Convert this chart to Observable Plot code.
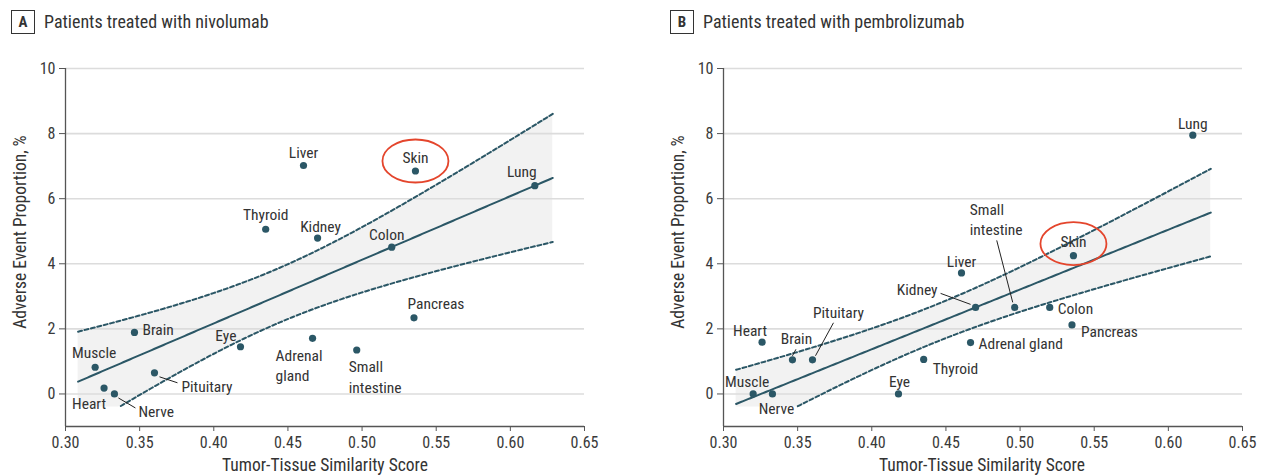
<!DOCTYPE html>
<html><head><meta charset="utf-8">
<script src="https://cdn.jsdelivr.net/npm/d3@7"></script>
<script src="https://cdn.jsdelivr.net/npm/@observablehq/plot@0.6"></script>
<style>
body{margin:0;background:#fff;}
#wrap{position:relative;width:1267px;height:476px;overflow:hidden;color:#333;font-family:"Roboto Condensed","DejaVu Sans Condensed","Open Sans",sans-serif;}
.panel{position:absolute;top:0;}
.tag{position:absolute;top:10px;width:24px;height:24px;box-sizing:border-box;border:1.3px solid #333;font-weight:bold;font-size:15px;text-align:center;line-height:22px;}
.title{position:absolute;top:12px;font-size:18px;line-height:20px;white-space:nowrap;}
.xlab{position:absolute;top:455px;width:400px;text-align:center;font-size:17.5px;line-height:20px;}
.ylab{position:absolute;width:300px;text-align:center;font-size:17.5px;line-height:20px;transform:rotate(-90deg);}
</style></head>
<body><div id="wrap"></div>
<script>
// ---- data ----
const tissues = ["Muscle","Heart","Nerve","Brain","Pituitary","Eye","Thyroid","Liver","Adrenal gland","Kidney","Small intestine","Colon","Pancreas","Skin","Lung"];
const similarity = [0.320,0.326,0.333,0.3465,0.360,0.418,0.435,0.4605,0.4666,0.470,0.4964,0.520,0.535,0.536,0.6165];
const aeNivolumab = [0.82,0.18,0.00,1.89,0.65,1.45,5.06,7.02,1.71,4.79,1.35,4.51,2.34,6.85,6.40];
const aePembrolizumab = [0.00,1.59,0.00,1.05,1.05,0.00,1.06,3.72,1.58,2.66,2.66,2.66,2.12,4.25,7.95];
const xTicks = [0.30,0.35,0.40,0.45,0.50,0.55,0.60,0.65];
const yTicks = [0,2,4,6,8,10];
const xDomain = [0.30,0.65];
const yDomain = [-1,10];
const fitRange = [0.3085,0.6286];
const tCrit = 1.7709; // 90% CI, df = 13
const yClip = -0.4;
const highlight = "Skin";

// ---- label layout: [textAnchor, dx px, dy px] ----
const layoutA = {"Muscle":["middle",-1,-16],"Heart":["end",2,14],"Nerve":["start",24,17],"Brain":["start",8,-4],
 "Pituitary":["start",27,13],"Eye":["end",-4,-12],"Thyroid":["middle",0,-16],"Liver":["middle",0,-14],
 "Adrenal gland":["start",-37,26],"Kidney":["middle",3,-13],"Small intestine":["start",-8,26],"Colon":["middle",-5,-14],
 "Pancreas":["middle",22,-15],"Skin":["middle",0,-14],"Lung":["middle",-13,-15]};
const breaksA = {"Adrenal gland":"Adrenal\ngland","Small intestine":"Small\nintestine"};
const leadersA = {"Nerve":[4,4,21,14],"Pituitary":[5,4,23,10]};
const layoutB = {"Muscle":["middle",-6,-13],"Heart":["middle",-12,-13],"Nerve":["middle",4,14],"Brain":["middle",4,-22],
 "Pituitary":["middle",26,-48],"Eye":["middle",1,-13],"Thyroid":["start",9,8],"Liver":["middle",0,-12],
 "Adrenal gland":["start",8,0],"Kidney":["end",-38,-19],"Small intestine":["start",-45,-89],"Colon":["start",8,0],
 "Pancreas":["start",9,6],"Skin":["middle",0,-15],"Lung":["middle",0,-13]};
const breaksB = {"Small intestine":"Small\nintestine"};
const leadersB = {"Brain":[0,-4,3.5,-10.5],"Pituitary":[3,-4,21,-37],"Kidney":[-35,-14,-5,-3],"Small intestine":[-18,-67,-2,-5]};

const teal = "#2b5766", red = "#e4452c";
const FONT = getComputedStyle(document.getElementById("wrap")).fontFamily;

const ellipse = {draw(ctx){const rx=33,ry=21.5,k=0.5523;
  ctx.moveTo(rx,0);ctx.bezierCurveTo(rx,ry*k,rx*k,ry,0,ry);ctx.bezierCurveTo(-rx*k,ry,-rx,ry*k,-rx,0);
  ctx.bezierCurveTo(-rx,-ry*k,-rx*k,-ry,0,-ry);ctx.bezierCurveTo(rx*k,-ry,rx,-ry*k,rx,0);ctx.closePath();}};

function panel(values, layout, breaks, leaders, W, mr, ellDy){
  const H=476, ml=65, mt=68, mb=50;
  const kx=(xDomain[1]-xDomain[0])/(W-ml-mr), ky=(yDomain[1]-yDomain[0])/(H-mt-mb);
  const data = tissues.map((t,i)=>({t, x:similarity[i], y:values[i]}));
  const labels = data.map(d=>{const [a,dx,dy]=layout[d.t];return {...d,a,label:breaks[d.t]??d.t,lx:d.x+dx*kx,ly:d.y-dy*ky};});
  const leaderData = Object.entries(leaders).map(([t,[x1,y1,x2,y2]])=>{const d=data.find(e=>e.t===t);
    return {x1:d.x+x1*kx,y1:d.y-y1*ky,x2:d.x+x2*kx,y2:d.y-y2*ky};});
  // ordinary least squares fit with confidence band
  const n=data.length, mx=d3.mean(data,d=>d.x), my=d3.mean(data,d=>d.y);
  const sxx=d3.sum(data,d=>(d.x-mx)**2), sxy=d3.sum(data,d=>(d.x-mx)*(d.y-my)), syy=d3.sum(data,d=>(d.y-my)**2);
  const b=sxy/sxx, a=my-b*mx, s=Math.sqrt((syy-b*sxy)/(n-2));
  const grid=d3.range(0,201).map(i=>{const x=fitRange[0]+(fitRange[1]-fitRange[0])*i/200;const f=a+b*x;
    const hw=tCrit*s*Math.sqrt(1/n+(x-mx)**2/sxx);return {x,fit:f,lo:f-hw,hi:f+hw};});
  const dash={stroke:teal,strokeWidth:2,strokeDasharray:"4,2.6"};
  return Plot.plot({width:W,height:H,marginLeft:ml,marginRight:mr,marginTop:mt,marginBottom:mb,
    x:{domain:xDomain},y:{domain:yDomain},
    style:{fontFamily:FONT,fontSize:"16px",color:"#3a3a3a",background:"transparent",overflow:"visible"},
    marks:[
      Plot.areaY(grid,{x:"x",y1:d=>Math.max(d.lo,yClip),y2:"hi",fill:"#f2f2f2"}),
      Plot.gridY(yTicks,{stroke:"#dcdcdc",strokeOpacity:1,strokeWidth:1.6}),
      Plot.ruleX([xDomain[0]],{y1:yDomain[0],y2:yDomain[1],stroke:"#555",strokeWidth:1.3}),
      Plot.ruleY([yDomain[0]],{stroke:"#555",strokeWidth:1.3}),
      Plot.axisX(xTicks,{tickFormat:d3.format(".2f"),tickSize:5,tickPadding:5,label:null,fontSize:16,stroke:"#555"}),
      Plot.axisY(yTicks,{tickSize:6,tickPadding:4,label:null,fontSize:16,stroke:"#555"}),
      Plot.line(grid,{x:"x",y:"hi",...dash}),
      Plot.line(grid.filter(d=>d.lo>=yClip),{x:"x",y:"lo",...dash}),
      Plot.line(grid,{x:"x",y:"fit",stroke:teal,strokeWidth:2}),
      Plot.link(leaderData,{x1:"x1",y1:"y1",x2:"x2",y2:"y2",stroke:"#222",strokeWidth:1}),
      Plot.dot(data,{x:"x",y:"y",r:3.6,fill:teal}),
      ...["start","middle","end"].map(an=>Plot.text(labels.filter(d=>d.a===an),{x:"lx",y:"ly",text:"label",textAnchor:an,lineAnchor:"middle",lineHeight:1.3,fontSize:15.5,fill:"#333"})),
      Plot.dot(data.filter(d=>d.t===highlight),{x:"x",y:"y",symbol:ellipse,stroke:red,strokeWidth:1.8,fill:"none",dy:ellDy})
    ]});
}

const wrap=document.getElementById("wrap");
function add(html){wrap.insertAdjacentHTML("beforeend",html);}
const svgA=panel(aeNivolumab,layoutA,breaksA,leadersA,640,56,-10);
svgA.classList.add("panel");svgA.style.left="0px";wrap.appendChild(svgA);
const svgB=panel(aePembrolizumab,layoutB,breaksB,leadersB,609,25,-12);
svgB.classList.add("panel");svgB.style.left="658px";wrap.appendChild(svgB);
add('<div class="tag" style="left:11px">A</div><div class="title" style="left:44px">Patients treated with nivolumab</div>');
add('<div class="tag" style="left:670px">B</div><div class="title" style="left:703px">Patients treated with pembrolizumab</div>');
add('<div class="xlab" style="left:125px">Tumor-Tissue Similarity Score</div><div class="xlab" style="left:782px">Tumor-Tissue Similarity Score</div>');
add('<div class="ylab" style="left:-130px;top:222px">Adverse Event Proportion, %</div><div class="ylab" style="left:528px;top:222px">Adverse Event Proportion, %</div>');
</script></body></html>
